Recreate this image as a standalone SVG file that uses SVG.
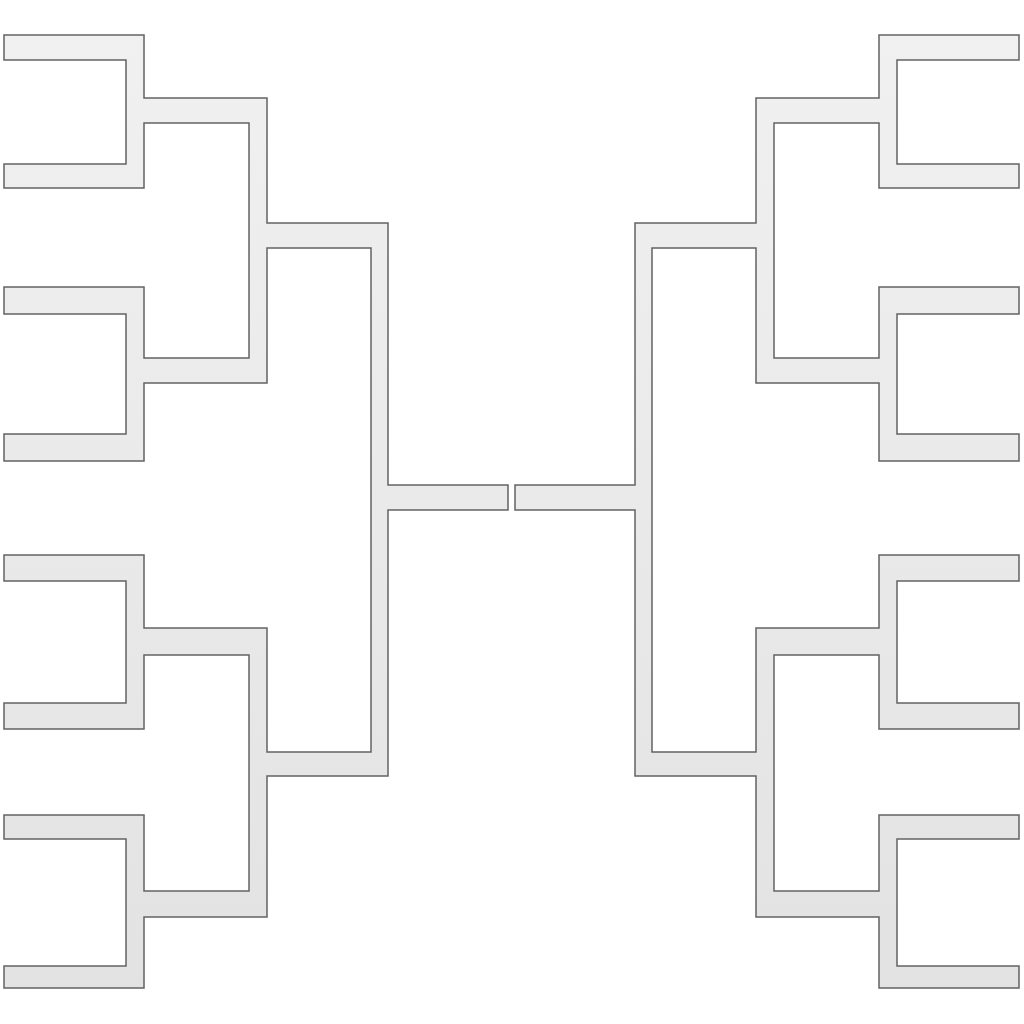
<svg xmlns="http://www.w3.org/2000/svg" width="1024" height="1024" viewBox="0 0 1024 1024">
  <defs>
    <linearGradient id="barFill" gradientUnits="userSpaceOnUse" x1="0" y1="0" x2="0" y2="1024">
      <stop offset="0" stop-color="#f1f1f1"/>
      <stop offset="1" stop-color="#e2e2e2"/>
    </linearGradient>
    <path id="half" d="M4,35 L144,35 L144,98 L267,98 L267,223 L388,223 L388,485 L508,485 L508,510 L388,510 L388,776 L267,776 L267,917 L144,917 L144,988 L4,988 L4,966 L126,966 L126,839 L4,839 L4,815 L144,815 L144,891 L249,891 L249,655 L144,655 L144,729 L4,729 L4,703 L126,703 L126,581 L4,581 L4,555 L144,555 L144,628 L267,628 L267,752 L371,752 L371,248 L267,248 L267,383 L144,383 L144,461 L4,461 L4,434 L126,434 L126,314 L4,314 L4,287 L144,287 L144,358 L249,358 L249,123 L144,123 L144,188 L4,188 L4,164 L126,164 L126,60 L4,60 Z"/>
  </defs>
  <style>
    .bracket { fill: url(#barFill); stroke: #636363; stroke-width: 1.5; stroke-linejoin: miter; }
  </style>
  <rect width="1024" height="1024" fill="#ffffff"/>
  <g id="left-bracket">
    <use href="#half" class="bracket"/>
  </g>
  <g id="right-bracket" transform="matrix(-1 0 0 1 1023 0)">
    <use href="#half" class="bracket"/>
  </g>
</svg>
